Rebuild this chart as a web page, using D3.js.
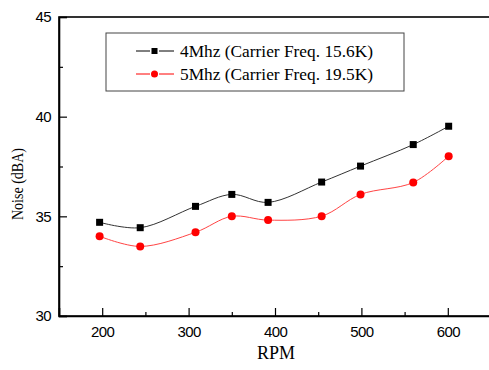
<!DOCTYPE html>
<html>
<head>
<meta charset="utf-8">
<script src="https://cdn.jsdelivr.net/npm/d3@7"></script>
<style>
  body { margin: 0; background: #fff; }
  svg { display: block; }
</style>
</head>
<body>
<div id="chart"></div>
<script>
// data
var rpm4 = [197, 244, 308, 350, 392, 454, 499, 560, 601];
var noise4 = [34.7, 34.43, 35.5, 36.1, 35.7, 36.72, 37.52, 38.6, 39.52];
var rpm5 = [197, 244, 308, 350, 392, 454, 499, 560, 601];
var noise5 = [34.0, 33.49, 34.2, 35.0, 34.81, 35.01, 36.1, 36.7, 38.02];
var seriesNames = ["4Mhz (Carrier Freq. 15.6K)", "5Mhz (Carrier Freq. 19.5K)"];
var xTicks = [200, 300, 400, 500, 600];
var yTicks = [30, 35, 40, 45];

var margin = {top: 17, right: -2, bottom: 54, left: 59},
    width = 489 - margin.left - margin.right,
    height = 370 - margin.top - margin.bottom;

var svg = d3.select("#chart")
  .append("svg")
    .attr("width", 489)
    .attr("height", 370)
  .append("g")
    .attr("transform", "translate(" + margin.left + "," + margin.top + ")");

var x = d3.scaleLinear().domain([150, 650]).range([0, width]);
var y = d3.scaleLinear().domain([30, 45]).range([height, 0]);

// frame
svg.append("rect")
  .attr("x", 0).attr("y", 0)
  .attr("width", width).attr("height", height)
  .attr("fill", "none")
  .attr("stroke", "#000")
  .attr("stroke-width", 1.6);

// x axis, ticks pointing inward
svg.append("g")
  .attr("transform", "translate(0," + height + ")")
  .call(d3.axisBottom(x).tickValues(xTicks).tickSize(-8).tickPadding(10).tickFormat(d3.format("d")));
svg.append("g")
  .attr("transform", "translate(0," + height + ")")
  .call(d3.axisBottom(x).tickValues([250, 350, 450, 550]).tickSize(-4).tickFormat(""))
  .select(".domain").remove();

svg.append("g")
  .call(d3.axisLeft(y).tickValues(yTicks).tickSize(-8).tickPadding(8));
svg.append("g")
  .call(d3.axisLeft(y).tickValues([32.5, 37.5, 42.5]).tickSize(-4).tickFormat(""))
  .select(".domain").remove();

svg.selectAll(".domain").attr("stroke-width", 1.6);
svg.selectAll(".tick line").attr("stroke-width", 1.2);
svg.selectAll(".tick text")
  .attr("font-family", "Liberation Sans, Arial, sans-serif")
  .attr("font-size", 15)
  .attr("letter-spacing", -0.6)
  .attr("fill", "#000");

// axis titles
svg.append("text")
  .attr("x", x(400) + 1)
  .attr("y", height + 43)
  .attr("text-anchor", "middle")
  .attr("font-family", "Liberation Serif, Times New Roman, serif")
  .attr("font-size", 18)
  .text("RPM");

svg.append("text")
  .attr("transform", "translate(" + (-36) + "," + (184 - margin.top) + ") rotate(-90)")
  .attr("text-anchor", "middle")
  .attr("font-family", "Liberation Serif, Times New Roman, serif")
  .attr("font-size", 17)
  .attr("textLength", 72)
  .attr("lengthAdjust", "spacingAndGlyphs")
  .text("Noise (dBA)");

var line = d3.line()
  .x(function(d) { return x(d[0]); })
  .y(function(d) { return y(d[1]); })
  .curve(d3.curveCatmullRom.alpha(0.5));

var data4 = d3.zip(rpm4, noise4);
var data5 = d3.zip(rpm5, noise5);

svg.append("path")
  .datum(data4)
  .attr("d", line)
  .attr("fill", "none")
  .attr("stroke", "#333")
  .attr("stroke-width", 1);

svg.append("path")
  .datum(data5)
  .attr("d", line)
  .attr("fill", "none")
  .attr("stroke", "#f44")
  .attr("stroke-width", 1);

svg.selectAll(".sq")
  .data(data4)
  .enter().append("rect")
    .attr("x", function(d) { return x(d[0]) - 3.5; })
    .attr("y", function(d) { return y(d[1]) - 3.5; })
    .attr("width", 7).attr("height", 7)
    .attr("fill", "#000");

svg.selectAll(".dot")
  .data(data5)
  .enter().append("circle")
    .attr("cx", function(d) { return x(d[0]); })
    .attr("cy", function(d) { return y(d[1]); })
    .attr("r", 4)
    .attr("fill", "#f00");

// legend
var lg = svg.append("g").attr("transform", "translate(" + (106 - margin.left) + "," + (33 - margin.top) + ")");
lg.append("rect")
  .attr("width", 298).attr("height", 58)
  .attr("fill", "#fff")
  .attr("stroke", "#444")
  .attr("stroke-width", 1);

var colors = ["#000", "#f00"];
seriesNames.forEach(function(name, i) {
  var row = lg.append("g").attr("transform", "translate(0," + (18 + i * 23) + ")");
  row.append("line").attr("x1", 30).attr("x2", 44).attr("stroke", colors[i]);
  row.append("line").attr("x1", 53).attr("x2", 68).attr("stroke", colors[i]);
  if (i == 0) {
    row.append("rect").attr("x", 45.5).attr("y", -3).attr("width", 6).attr("height", 6).attr("fill", colors[i]);
  } else {
    row.append("circle").attr("cx", 48.5).attr("cy", 0).attr("r", 3.5).attr("fill", colors[i]);
  }
  row.append("text")
    .attr("x", 74)
    .attr("y", 6)
    .attr("font-family", "Liberation Serif, Times New Roman, serif")
    .attr("font-size", 17)
    .attr("textLength", 193)
    .attr("lengthAdjust", "spacingAndGlyphs")
    .text(name);
});
</script>
</body>
</html>
